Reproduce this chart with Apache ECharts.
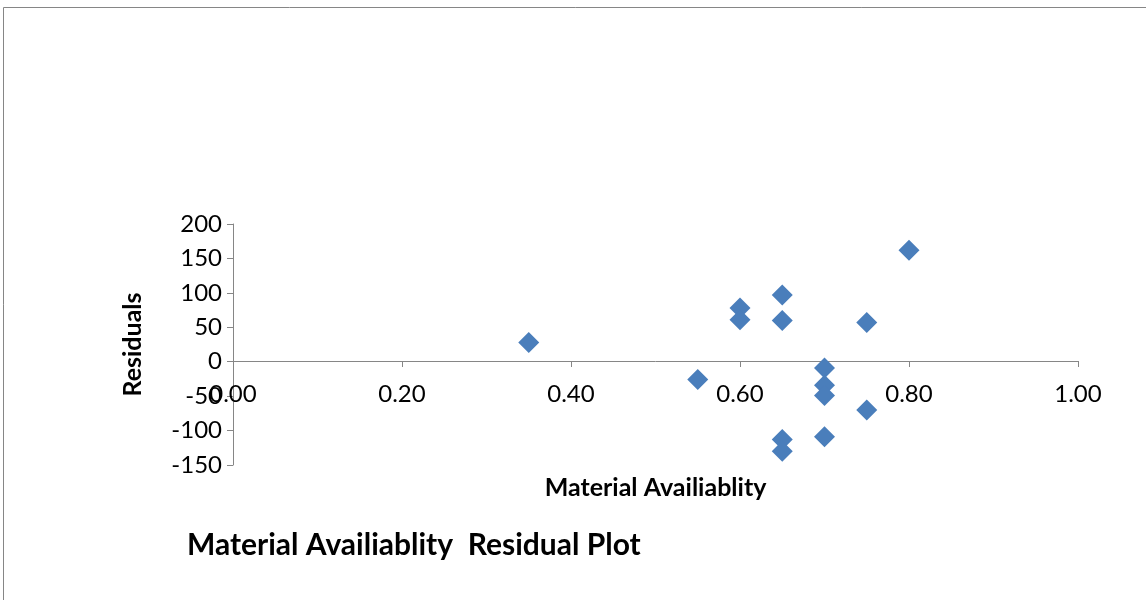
<!DOCTYPE html>
<html>
<head>
<meta charset="utf-8">
<script src="https://cdn.jsdelivr.net/npm/echarts@6/dist/echarts.min.js"></script>
<style>
  html, body { margin: 0; padding: 0; background: #fff; }
  #main { width: 1146px; height: 600px; }
</style>
</head>
<body>
<div id="main"></div>
<script>
// material availability vs residual
const availability = [0.35, 0.55, 0.60, 0.60, 0.65, 0.65, 0.65, 0.65, 0.70, 0.70, 0.70, 0.70, 0.75, 0.75, 0.80]
const residuals = [28, -26, 78, 61, 97, 60, -113, -130, -9, -34, -49, -109, 57, -70, 162]

const points = availability.map((x, i) => [x, residuals[i]])

const font = 'Lato, "Open Sans", sans-serif'
const axisColor = '#868686'

const chart = echarts.init(document.getElementById('main'))
chart.setOption({
  animation: false,
  title: {
    text: 'Material Availiablity  Residual Plot',
    left: 182,
    top: 525,
    textStyle: { fontFamily: font, fontSize: 30, fontWeight: 'bold', color: '#000' }
  },
  graphic: [
    {
      type: 'rect',
      shape: { x: 3.5, y: 7.5, width: 1160, height: 700 },
      style: { fill: 'none', stroke: axisColor, lineWidth: 1 },
      silent: true
    }
  ],
  grid: { left: 233, right: 68, top: 224, bottom: 135, outerBoundsMode: 'none' },
  xAxis: {
    type: 'value',
    min: 0,
    max: 1,
    interval: 0.2,
    // x axis sits on residual = 0 (104px above grid bottom)
    offset: -104,
    name: 'Material Availiablity',
    nameLocation: 'middle',
    nameGap: 114,
    nameTextStyle: { fontFamily: font, fontSize: 25, fontWeight: 'bold', color: '#000' },
    axisLine: { onZero: false, lineStyle: { color: axisColor, width: 1 } },
    axisTick: { show: true, length: 6, lineStyle: { color: axisColor } },
    axisLabel: {
      margin: 21,
      fontFamily: font,
      fontSize: 24,
      color: '#000',
      formatter: v => v.toFixed(2)
    },
    splitLine: { show: false }
  },
  yAxis: {
    type: 'value',
    min: -150,
    max: 200,
    interval: 50,
    name: 'Residuals',
    nameLocation: 'middle',
    nameGap: 88,
    nameTextStyle: { fontFamily: font, fontSize: 25, fontWeight: 'bold', color: '#000' },
    axisLine: { show: true, onZero: false, lineStyle: { color: axisColor, width: 1 } },
    axisTick: { show: true, length: 6, lineStyle: { color: axisColor } },
    axisLabel: { margin: 11, fontFamily: font, fontSize: 24, color: '#000' },
    splitLine: { show: false }
  },
  series: [
    {
      type: 'scatter',
      symbol: 'diamond',
      symbolSize: 21,
      itemStyle: { color: '#4A7EBB', opacity: 1 },
      data: points
    }
  ]
})
</script>
</body>
</html>
